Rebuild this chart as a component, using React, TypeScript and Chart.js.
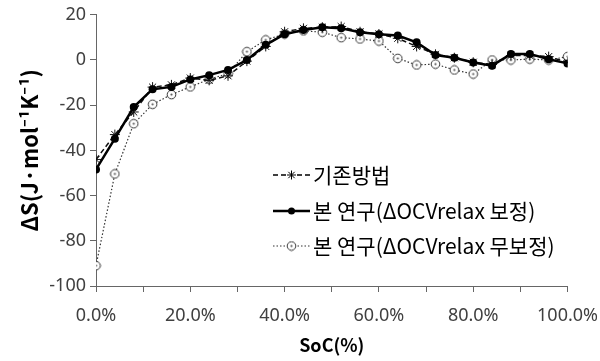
import React, { useEffect, useRef } from "react";
import { Chart, registerables } from "chart.js";

Chart.register(...registerables);

const soc = [0, 4, 8, 12, 16, 20, 24, 28, 32, 36, 40, 44, 48, 52, 56, 60, 64, 68, 72, 76, 80, 84, 88, 92, 96, 100];

const conventional = [-44, -33, -23, -12, -11, -8, -9, -7, -0.5, 6, 12.5, 14, 14.5, 14.8, 12.5, 11.5, 9.6, 6, 2.5, 1, -1, -2, 2, 2, 1.5, -1];
const corrected = [-48.4, -34.8, -20.8, -12.9, -11.9, -8.6, -6.7, -4.4, 0, 6.7, 11.4, 13.3, 14.5, 14, 12.3, 11.4, 10.8, 7.8, 2.2, 1, -1.1, -2.5, 2.7, 2.7, 0.3, -1.5];
const uncorrected = [-91, -50.4, -28.2, -19.6, -15.3, -11.9, -8.5, -6, 3.7, 8.9, 11.5, 12.9, 12.3, 9.9, 9.3, 8.4, 0.7, -2.2, -1.8, -4.4, -6.2, 0, 0, 0.4, 0, 1.5];

const legendLabels = ["기존방법", "본 연구(ΔOCVrelax 보정)", "본 연구(ΔOCVrelax 무보정)"];
const yTitle = "ΔS(J·mol⁻¹K⁻¹)";
const xTitle = "SoC(%)";

function makeOpenCircle(): HTMLCanvasElement {
  const c = document.createElement("canvas");
  c.width = 11;
  c.height = 11;
  const g = c.getContext("2d")!;
  g.beginPath();
  g.arc(5.5, 5.5, 4.3, 0, Math.PI * 2);
  g.fillStyle = "#ffffff";
  g.fill();
  g.lineWidth = 1;
  g.strokeStyle = "#333333";
  g.stroke();
  g.beginPath();
  g.arc(5.5, 5.5, 1.1, 0, Math.PI * 2);
  g.fillStyle = "#555555";
  g.fill();
  return c;
}

function drawStar(ctx: CanvasRenderingContext2D, x: number, y: number, r: number) {
  ctx.beginPath();
  for (let i = 0; i < 4; i++) {
    const a = (i * Math.PI) / 4;
    ctx.moveTo(x - Math.cos(a) * r, y - Math.sin(a) * r);
    ctx.lineTo(x + Math.cos(a) * r, y + Math.sin(a) * r);
  }
  ctx.stroke();
}

export default function App() {
  const ref = useRef<HTMLCanvasElement | null>(null);

  useEffect(() => {
    if (!ref.current) return;
    const openCircle = makeOpenCircle();

    const legendPlugin = {
      id: "customLegend",
      afterDraw(chart: any) {
        const ctx: CanvasRenderingContext2D = chart.ctx;
        const rows = [175, 211, 246];
        const x0 = 273;
        const x1 = 310;
        const xm = (x0 + x1) / 2;
        ctx.save();
        rows.forEach((y, i) => {
          ctx.strokeStyle = "#000";
          ctx.beginPath();
          if (i === 0) {
            ctx.lineWidth = 1.5;
            ctx.setLineDash([5, 3]);
          } else if (i === 1) {
            ctx.lineWidth = 2.5;
            ctx.setLineDash([]);
          } else {
            ctx.lineWidth = 1.2;
            ctx.setLineDash([1.5, 2]);
            ctx.strokeStyle = "#333";
          }
          ctx.moveTo(x0, y);
          ctx.lineTo(x1, y);
          ctx.stroke();
          ctx.setLineDash([]);
          if (i === 0) {
            ctx.lineWidth = 1;
            ctx.strokeStyle = "#000";
            ctx.fillStyle = "#fff";
            ctx.fillRect(xm - 4, y - 4, 8, 8);
            drawStar(ctx, xm, y, 4.5);
          } else if (i === 1) {
            ctx.beginPath();
            ctx.arc(xm, y, 3.5, 0, Math.PI * 2);
            ctx.fillStyle = "#000";
            ctx.fill();
          } else {
            ctx.drawImage(openCircle, xm - 5.5, y - 5.5);
          }
          ctx.fillStyle = "#000";
          ctx.font = '21px "Noto Sans CJK KR", "Noto Sans", sans-serif';
          ctx.textBaseline = "middle";
          ctx.textAlign = "left";
          ctx.fillText(legendLabels[i], x1 + 3, y);
        });
        ctx.restore();
      },
    };

    const xTickFont = { family: '"Noto Sans", "Open Sans", sans-serif', size: 18, lineHeight: 2.4 };
    const yTickFont = { family: '"Noto Sans", "Open Sans", sans-serif', size: 18 };
    const xTitleFont = { family: '"Noto Sans CJK KR", "Noto Sans", sans-serif', size: 18, weight: "bold" as const };
    const yTitleFont = { family: '"Noto Sans CJK KR", "Noto Sans", sans-serif', size: 22, weight: "bold" as const };

    const chart = new Chart(ref.current, {
      type: "line",
      data: {
        datasets: [
          {
            label: legendLabels[1],
            data: soc.map((x, i) => ({ x, y: corrected[i] })),
            borderColor: "#000",
            backgroundColor: "#000",
            borderWidth: 2.5,
            pointRadius: 4,
            pointStyle: "circle",
            pointBorderWidth: 0,
            tension: 0,
          },
          {
            label: legendLabels[0],
            data: soc.map((x, i) => ({ x, y: conventional[i] })),
            borderColor: "#111",
            backgroundColor: "#111",
            borderWidth: 1.5,
            borderDash: [5, 3],
            pointRadius: 5,
            pointStyle: "star",
            pointBorderWidth: 1,
            tension: 0,
          },
          {
            label: legendLabels[2],
            data: soc.map((x, i) => ({ x, y: uncorrected[i] })),
            borderColor: "#333",
            backgroundColor: "#fff",
            borderWidth: 1.2,
            borderDash: [1.5, 2],
            pointStyle: openCircle as any,
            pointRadius: 5,
            tension: 0,
          },
        ],
      },
      options: {
        animation: false,
        responsive: true,
        maintainAspectRatio: false,
        layout: { padding: { left: 0, right: 2, top: 13, bottom: 0 } },
        plugins: { legend: { display: false }, tooltip: { enabled: false } },
        scales: {
          x: {
            type: "linear",
            min: 0,
            max: 100,
            afterFit: (s: any) => {
              s.height = 75;
            },
            ticks: {
              stepSize: 10,
              autoSkip: false,
              maxRotation: 0,
              color: "#404040",
              font: xTickFont,
              padding: 2,
              callback: (v: any) => (Number(v) % 20 === 0 ? Number(v).toFixed(1) + "%" : ""),
            },
            grid: { drawOnChartArea: false, drawTicks: true, tickLength: 6, color: "#666" },
            border: { color: "#666", width: 1 },
            title: { display: true, text: xTitle, color: "#000", font: xTitleFont, padding: { top: 0, bottom: 5 } },
          },
          y: {
            min: -100,
            max: 20,
            afterFit: (s: any) => {
              s.width = 96;
            },
            ticks: { stepSize: 20, color: "#404040", font: yTickFont, padding: 4 },
            grid: { drawOnChartArea: false, drawTicks: true, tickLength: 6, color: "#666" },
            border: { color: "#666", width: 1 },
            title: { display: true, text: yTitle, color: "#000", font: yTitleFont, padding: { top: 16, bottom: 0 } },
          },
        },
      },
      plugins: [legendPlugin],
    });
    return () => chart.destroy();
  }, []);

  return (
    <div style={{ position: "fixed", left: 0, top: 0, width: 600, height: 361, background: "#fff" }}>
      <canvas ref={ref} />
    </div>
  );
}
